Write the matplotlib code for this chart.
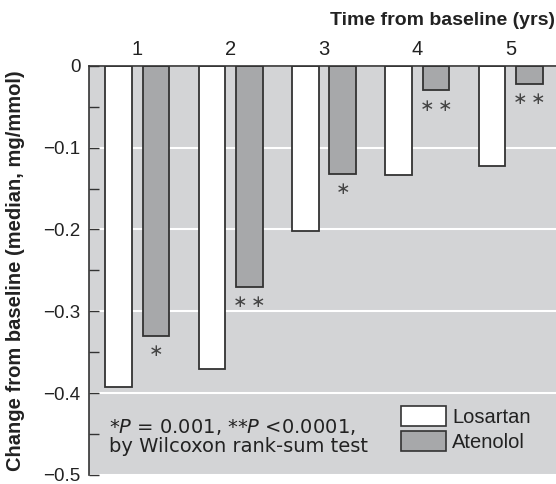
import matplotlib
matplotlib.use("Agg")
import matplotlib.pyplot as plt
from matplotlib.ticker import FixedLocator
from matplotlib.patches import Patch
import numpy as np

years = [1, 2, 3, 4, 5]
year_labels = ["1", "2", "3", "4", "5"]
losartan = [-0.393, -0.371, -0.202, -0.133, -0.122]
atenolol = [-0.330, -0.270, -0.132, -0.030, -0.022]
atenolol_sig = ["∗", "∗\u2009∗", "∗", "∗\u2009∗", "∗\u2009∗"]
series_names = ["Losartan", "Atenolol"]
ytick_vals = [0, -0.1, -0.2, -0.3, -0.4, -0.5]
ytick_labels = ["0", "−0.1", "−0.2", "−0.3", "−0.4", "−0.5"]

plt.rcParams['font.family'] = ['Liberation Sans', 'DejaVu Sans']
plt.rcParams['mathtext.fontset'] = 'dejavusans'

BG = "#d3d4d6"
GRAY = "#a7a8aa"
EDGE = "#333333"
TXT = "#222222"

fig = plt.figure(figsize=(5.56, 4.84), dpi=100)
ax = fig.add_axes([0.160, 0.019, 0.845, 0.845])
ax.set_facecolor(BG)

x = np.array(years, dtype=float)
off = 0.2
w = 0.285
ax.bar(x - off, losartan, width=w, color="white", edgecolor=EDGE, linewidth=1.3, zorder=3)
ax.bar(x + off, atenolol, width=w, color=GRAY, edgecolor=EDGE, linewidth=1.3, zorder=3)

for xi, v, s in zip(x, atenolol, atenolol_sig):
    ax.annotate(s, xy=(xi + off, v), xytext=(0, -11), textcoords="offset points",
                ha="center", va="center", fontsize=12.5, color="#444444",
                family=['DejaVu Sans'])

ax.set_xlim(0.483, 5.515)
ax.set_ylim(-0.5, 0)

ax.yaxis.set_major_locator(FixedLocator(ytick_vals))
ax.set_yticklabels(ytick_labels)
ax.yaxis.set_minor_locator(FixedLocator([-0.05, -0.15, -0.25, -0.35, -0.45]))
ax.tick_params(axis="y", which="both", direction="in", length=7, width=1, color=EDGE,
               labelsize=13.5, labelcolor=TXT, pad=6)
ax.grid(axis="y", which="major", color="white", linewidth=1.5, zorder=1)
ax.set_axisbelow(True)

ax.set_xticks(x)
ax.set_xticklabels(year_labels)
ax.xaxis.set_ticks_position("top")
ax.tick_params(axis="x", which="both", length=0, labelsize=14.5, labelcolor=TXT, pad=5)

for side in ["right", "bottom"]:
    ax.spines[side].set_visible(False)
ax.spines["left"].set_color(EDGE)
ax.spines["left"].set_linewidth(1.2)
ax.spines["top"].set_color(EDGE)
ax.spines["top"].set_linewidth(1.2)
ax.spines["top"].set_zorder(4)

ax.set_ylabel("Change from baseline (median, mg/mmol)", fontsize=14.5, fontweight="bold",
              color=TXT)
ax.yaxis.set_label_coords(-0.137, 0.5)
fig.text(0.999, 0.958, "Time from baseline (yrs)", ha="right", va="center",
         fontsize=14, fontweight="bold", color=TXT)

ax.text(0.043, 0.094, "*$\\it{P}$ = 0.001, **$\\it{P}$ <0.0001,\nby Wilcoxon rank-sum test",
        transform=ax.transAxes, ha="left", va="center", fontsize=14, color=TXT,
        linespacing=0.98, family=['DejaVu Sans'])

handles = [Patch(facecolor="white", edgecolor=EDGE, linewidth=1.2),
           Patch(facecolor=GRAY, edgecolor=EDGE, linewidth=1.2)]
leg = ax.legend(handles, series_names, loc="lower left", bbox_to_anchor=(0.664, 0.056),
                frameon=False, fontsize=14.5, handlelength=2.25, handleheight=1.15,
                handletextpad=0.3, labelspacing=0.2, borderpad=0, borderaxespad=0)
for t in leg.get_texts():
    t.set_color(TXT)

fig.savefig("out.png", dpi=100)
